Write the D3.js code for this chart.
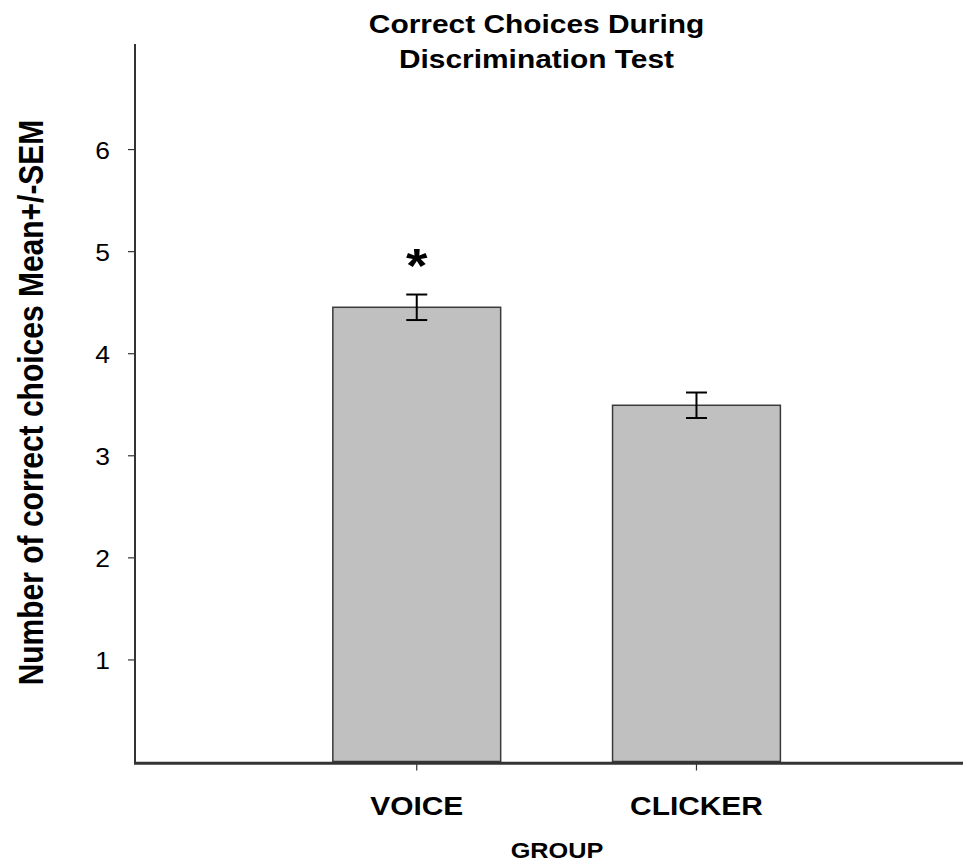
<!DOCTYPE html>
<html>
<head>
<meta charset="utf-8">
<script src="https://cdn.jsdelivr.net/npm/d3@7"></script>
<style>
  html, body { margin: 0; padding: 0; background: #fff; }
  svg { display: block; }
  text { font-family: "Liberation Sans", Arial, sans-serif; fill: #000; }
</style>
</head>
<body>
<div id="chart"></div>
<script>
// ---- data ----
const categories = ["VOICE", "CLICKER"];
const means = [4.45, 3.49];
const sems = [0.125, 0.125];
const yTicks = [1, 2, 3, 4, 5, 6];
const significant = [true, false];
const titleLines = ["Correct Choices During", "Discrimination Test"];
const yLabel = "Number of correct choices Mean+/-SEM";
const xLabel = "GROUP";

const W = 963, H = 865;
const SX = 1.15; // horizontal text stretch seen in the reference

const svg = d3.select("#chart").append("svg")
  .attr("width", W).attr("height", H);

const x0 = 135, x1 = 963;
const x = d3.scaleBand().domain(categories).range([x0, x1])
  .paddingInner(0.4).paddingOuter(0.68).align(0.52);
const y = d3.scaleLinear().domain([0, 7]).range([761.5, 47]);

function stext(g, str, tx, ty, opts) {
  const t = g.append("text")
    .attr("transform", `translate(${tx},${ty}) scale(${SX},1)` + (opts.rot ? ` rotate(${opts.rot})` : ""))
    .attr("text-anchor", opts.anchor || "middle")
    .style("font-size", opts.size + "px")
    .style("font-weight", opts.bold ? "bold" : "normal")
    .text(str);
  return t;
}

// bars
const bw = x.bandwidth();
svg.selectAll("rect.bar").data(categories).join("rect")
  .attr("class", "bar")
  .attr("x", d => x(d))
  .attr("width", bw)
  .attr("y", (d, i) => y(means[i]))
  .attr("height", (d, i) => y(0) - y(means[i]))
  .attr("fill", "#c0c0c0")
  .attr("stroke", "#3a3a3a")
  .attr("stroke-width", 1.5);

// error bars
const capW = 21;
const eb = svg.selectAll("g.err").data(categories).join("g").attr("class", "err");
eb.append("line")
  .attr("x1", d => x(d) + bw / 2).attr("x2", d => x(d) + bw / 2)
  .attr("y1", (d, i) => y(means[i] + sems[i])).attr("y2", (d, i) => y(means[i] - sems[i]))
  .attr("stroke", "#000").attr("stroke-width", 2);
eb.append("line")
  .attr("x1", d => x(d) + bw / 2 - capW / 2).attr("x2", d => x(d) + bw / 2 + capW / 2)
  .attr("y1", (d, i) => y(means[i] + sems[i])).attr("y2", (d, i) => y(means[i] + sems[i]))
  .attr("stroke", "#000").attr("stroke-width", 2);
eb.append("line")
  .attr("x1", d => x(d) + bw / 2 - capW / 2).attr("x2", d => x(d) + bw / 2 + capW / 2)
  .attr("y1", (d, i) => y(means[i] - sems[i])).attr("y2", (d, i) => y(means[i] - sems[i]))
  .attr("stroke", "#000").attr("stroke-width", 2);

// significance asterisk
categories.forEach((c, i) => {
  if (significant[i]) {
    stext(svg, "*", x(c) + bw / 2, y(means[i] + sems[i]) - 13, { size: 48, bold: true });
  }
});

// y axis ticks via d3 axis
const yAxis = d3.axisLeft(y).tickValues(yTicks).tickSize(7).tickFormat("");
const gy = svg.append("g").attr("transform", `translate(${x0},0)`).call(yAxis);
gy.select(".domain").remove();
gy.selectAll(".tick line").attr("stroke", "#333").attr("stroke-width", 1.2);

// x axis ticks
const xAxis = d3.axisBottom(x).tickSize(9).tickFormat("");
const gx = svg.append("g").attr("transform", `translate(0,${y(0)})`).call(xAxis);
gx.select(".domain").remove();
gx.selectAll(".tick line").attr("stroke", "#333").attr("stroke-width", 1.2);

// axis lines
svg.append("line").attr("x1", x0).attr("x2", x0).attr("y1", 44).attr("y2", y(0) + 2)
  .attr("stroke", "#333").attr("stroke-width", 2);
svg.append("line").attr("x1", x0 - 1).attr("x2", x1).attr("y1", y(0) + 1.8).attr("y2", y(0) + 1.8)
  .attr("stroke", "#333").attr("stroke-width", 3);

// tick labels
yTicks.forEach(v => {
  stext(svg, String(v), 110, y(v) + 9.5, { size: 23, anchor: "end" });
});
categories.forEach(c => {
  stext(svg, c, x(c) + bw / 2, 815, { size: 26, bold: true });
});

// titles / axis labels
stext(svg, titleLines[0], 536.5, 33, { size: 26, bold: true });
stext(svg, titleLines[1], 536.5, 68, { size: 26, bold: true });
stext(svg, yLabel, 43, 402.5, { size: 30, bold: true, rot: -90 });
stext(svg, xLabel, 557, 858, { size: 22, bold: true });
</script>
</body>
</html>
